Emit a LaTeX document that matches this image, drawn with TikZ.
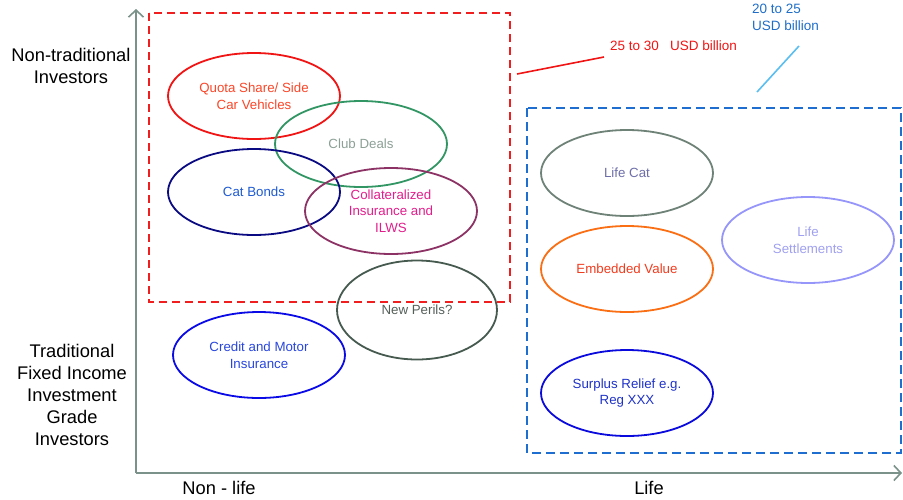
\documentclass[tikz,border=0pt]{standalone}
\usepackage{fontspec}
\setmainfont{Liberation Sans}
\usetikzlibrary{shapes.geometric,arrows.meta}
\definecolor{axisc}{RGB}{122,146,138}
\definecolor{redbox}{RGB}{240,30,30}
\definecolor{bluebox}{RGB}{30,110,210}
\definecolor{quotaE}{RGB}{240,20,20}
\definecolor{quotaT}{RGB}{250,70,40}
\definecolor{clubE}{RGB}{50,150,100}
\definecolor{clubT}{RGB}{140,160,150}
\definecolor{catE}{RGB}{10,10,130}
\definecolor{catT}{RGB}{30,90,210}
\definecolor{collE}{RGB}{140,50,100}
\definecolor{collT}{RGB}{225,30,140}
\definecolor{newE}{RGB}{70,90,80}
\definecolor{newT}{RGB}{85,95,90}
\definecolor{credE}{RGB}{10,10,230}
\definecolor{credT}{RGB}{40,70,220}
\definecolor{lcatE}{RGB}{110,130,120}
\definecolor{lcatT}{RGB}{110,110,170}
\definecolor{embE}{RGB}{250,110,20}
\definecolor{embT}{RGB}{240,60,30}
\definecolor{lsetE}{RGB}{150,150,250}
\definecolor{lsetT}{RGB}{160,160,240}
\definecolor{surE}{RGB}{10,10,220}
\definecolor{surT}{RGB}{30,50,200}
\definecolor{redtxt}{RGB}{240,20,20}
\definecolor{bluetxt}{RGB}{30,110,200}
\definecolor{bluelink}{RGB}{90,190,240}
\tikzset{
  oval/.style={ellipse, draw, line width=1.8pt, minimum width=172pt, minimum height=86pt,
    inner sep=0pt, align=center, font=\fontsize{13.3}{16.5}\selectfont},
  axisline/.style={draw=axisc, line width=1.8pt, -{Straight Barb[length=7pt,width=15pt,line width=1.6pt]}},
  axlabel/.style={align=center, font=\fontsize{18.3}{22}\selectfont, inner sep=0pt},
  redbx/.style={draw=redbox, line width=1.8pt, dash pattern=on 8pt off 5pt},
  bluebx/.style={draw=bluebox, line width=1.8pt, dash pattern=on 9pt off 5pt},
  amount/.style={font=\fontsize{13.5}{16.5}\selectfont, inner sep=0pt, align=left}
}
\begin{document}
\begin{tikzpicture}[x=1pt,y=-1pt]
\useasboundingbox (0,0) rectangle (903,499);
% axes
\coordinate (origin) at (136,473);
\coordinate (ytop) at (136,9);
\coordinate (xend) at (902,473);
\draw[axisline] (origin) -- (ytop);
\draw[axisline] (origin) -- (xend);
% dashed boxes
\draw[redbx] (149,13) rectangle (510,302);
\draw[bluebx] (527,108) rectangle (901,453);
% ellipses
\node[oval, draw=quotaE, text=quotaT] (quota) at (254,96) {Quota Share/ Side\\Car Vehicles};
\node[oval, draw=clubE, text=clubT] (club) at (361,144) {Club Deals};
\node[oval, draw=catE, text=catT] (cat) at (254,192) {Cat Bonds};
\node[oval, draw=collE, text=collT] (coll) at (391,211) {Collateralized\\Insurance and\\ILWS};
\node[oval, draw=newE, text=newT, minimum width=160pt, minimum height=99pt] (newp) at (417,310) {New Perils?};
\node[oval, draw=credE, text=credT] (cred) at (259,355) {Credit and Motor\\Insurance};
\node[oval, draw=lcatE, text=lcatT] (lcat) at (627,173) {Life Cat};
\node[oval, draw=embE, text=embT] (emb) at (627,269) {Embedded Value};
\node[oval, draw=lsetE, text=lsetT] (lset) at (808,240) {Life\\Settlements};
\node[oval, draw=surE, text=surT] (sur) at (627,393) {Surplus Relief e.g.\\Reg XXX};
% axis labels
\node[axlabel] (nontrad) at (71,66) {Non-traditional\\Investors};
\node[axlabel] (trad) at (72,395) {Traditional\\Fixed Income\\Investment\\Grade\\Investors};
\node[axlabel] (nonlife) at (219,488) {Non - life};
\node[axlabel] (life) at (649,488) {Life};
% amounts
\node[amount, text=redtxt, anchor=west] (redamt) at (610,46) {25 to 30\ \ \ USD billion};
\node[amount, text=bluetxt, anchor=north west] (blueamt) at (752,4) {20 to 25\\USD billion};
\coordinate (redstart) at (517,74);
\coordinate (redend) at (604,57);
\coordinate (bluestart) at (757,92);
\coordinate (blueend) at (799,46);
\draw[redtxt, line width=1.6pt] (redstart) -- (redend);
\draw[bluelink, line width=1.6pt] (bluestart) -- (blueend);
\end{tikzpicture}
\end{document}
